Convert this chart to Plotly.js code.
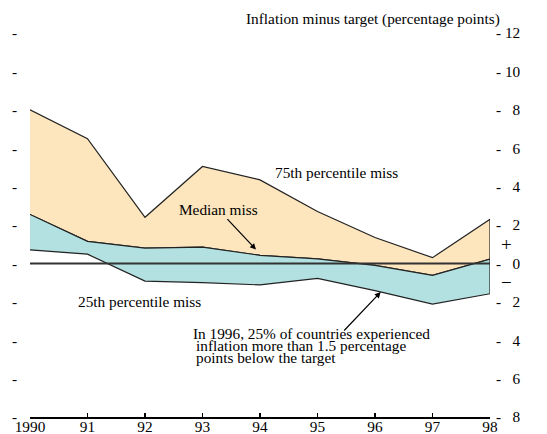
<!DOCTYPE html>
<html>
<head>
<meta charset="utf-8">
<script src="https://cdn.plot.ly/plotly-3.0.1.min.js"></script>
<style>html,body{margin:0;padding:0;background:#fff;}#chart{width:547px;height:434px;}</style>
</head>
<body>
<div id="chart"></div>
<script>
const years = [1990, 1991, 1992, 1993, 1994, 1995, 1996, 1997, 1998];
const yearLabels = ["1990", "91", "92", "93", "94", "95", "96", "97", "98"];
const p75 = [8.0, 6.5, 2.4, 5.05, 4.35, 2.7, 1.35, 0.3, 2.3];
const median = [2.55, 1.15, 0.8, 0.85, 0.42, 0.24, -0.1, -0.62, 0.22];
const p25 = [0.7, 0.48, -0.92, -1.0, -1.12, -0.78, -1.42, -2.12, -1.58];
const yTickVals = [-8, -6, -4, -2, 0, 2, 4, 6, 8, 10, 12];
const yTickNums = ["8", "6", "4", "2", "0", "2", "4", "6", "8", "10", "12"];

const FONT = "Liberation Serif, Times New Roman, serif";
const FS = 15.3;
const fs = "\u2007";
const rightText = yTickNums.map(s => "- " + (s.length < 2 ? fs : "") + s);
const leftText = yTickVals.map(() => "-");

const revYears = years.slice().reverse();
const upper = {
  x: years.concat(revYears),
  y: p75.concat(median.slice().reverse()),
  type: "scatter", mode: "lines", fill: "toself",
  fillcolor: "#FDE5BD", line: {color: "#222", width: 1.2},
  hoverinfo: "skip", showlegend: false
};
const lower = {
  x: years.concat(revYears),
  y: median.concat(p25.slice().reverse()),
  type: "scatter", mode: "lines", fill: "toself",
  fillcolor: "#B3E0E0", line: {color: "#222", width: 1.2},
  hoverinfo: "skip", showlegend: false
};
const zero = {
  x: [years[0], years[years.length - 1]], y: [0, 0],
  type: "scatter", mode: "lines", line: {color: "#333", width: 2},
  hoverinfo: "skip", showlegend: false, yaxis: "y2"
};

const layout = {
  width: 547, height: 434,
  margin: {l: 30, r: 57, t: 33, b: 17},
  paper_bgcolor: "#fff", plot_bgcolor: "#fff",
  font: {family: FONT, size: FS, color: "#000"},
  showlegend: false,
  xaxis: {
    range: [1990, 1998], tickvals: years, ticktext: yearLabels,
    showgrid: false, zeroline: false, showline: true, linecolor: "#000", linewidth: 2,
    ticks: "inside", ticklen: 4, tickwidth: 1.5, tickcolor: "#000",
    ticklabelstandoff: -5,
    tickfont: {family: FONT, size: FS, color: "#000"}
  },
  yaxis: {
    range: [-8, 12], side: "right", tickvals: yTickVals, ticktext: rightText,
    showgrid: false, zeroline: false, showline: false, ticks: "",
    ticklabelstandoff: 5,
    tickfont: {family: FONT, size: FS, color: "#000"}
  },
  yaxis2: {
    range: [-8, 12], side: "left", overlaying: "y", tickvals: yTickVals, ticktext: leftText,
    showgrid: false, zeroline: false, showline: false, ticks: "",
    ticklabelstandoff: 12,
    tickfont: {family: FONT, size: FS, color: "#000"}
  },
  annotations: [
    {text: "Inflation minus target (percentage points)", xref: "paper", yref: "paper",
     x: 1.026, y: 1.036, xanchor: "right", yanchor: "middle", showarrow: false},
    {text: "+", xref: "paper", yref: "y", x: 1.0355, y: 1, xanchor: "center", yanchor: "middle", showarrow: false,
     font: {size: 19}},
    {text: "\u2212", xref: "paper", yref: "y", x: 1.0355, y: -1, xanchor: "center", yanchor: "middle", showarrow: false,
     font: {size: 19}},
    {text: "75th percentile miss", x: 1994.22, y: 4.72, xanchor: "left", yanchor: "middle", showarrow: false},
    {text: "Median miss", x: 1992.56, y: 2.82, xanchor: "left", yanchor: "middle", showarrow: false},
    {text: "", x: 1993.93, y: 0.72, ax: -30, ay: -32, showarrow: true,
     arrowhead: 2, arrowsize: 1, arrowwidth: 1.2, arrowcolor: "#000"},
    {text: "25th percentile miss", x: 1990.8, y: -2.0, xanchor: "left", yanchor: "middle", showarrow: false},
    {text: "In 1996, 25% of countries experienced", x: 1992.8, y: -3.65, xanchor: "left", yanchor: "middle", showarrow: false},
    {text: "inflation more than 1.5 percentage", x: 1992.85, y: -4.27, xanchor: "left", yanchor: "middle", showarrow: false},
    {text: "points below the target", x: 1992.85, y: -4.89, xanchor: "left", yanchor: "middle", showarrow: false},
    {text: "", x: 1996.1, y: -1.49, ax: -38, ay: 40, showarrow: true,
     arrowhead: 2, arrowsize: 1, arrowwidth: 1.2, arrowcolor: "#000"}
  ]
};

Plotly.newPlot("chart", [upper, lower, zero], layout, {displayModeBar: false, staticPlot: true});
</script>
</body>
</html>
